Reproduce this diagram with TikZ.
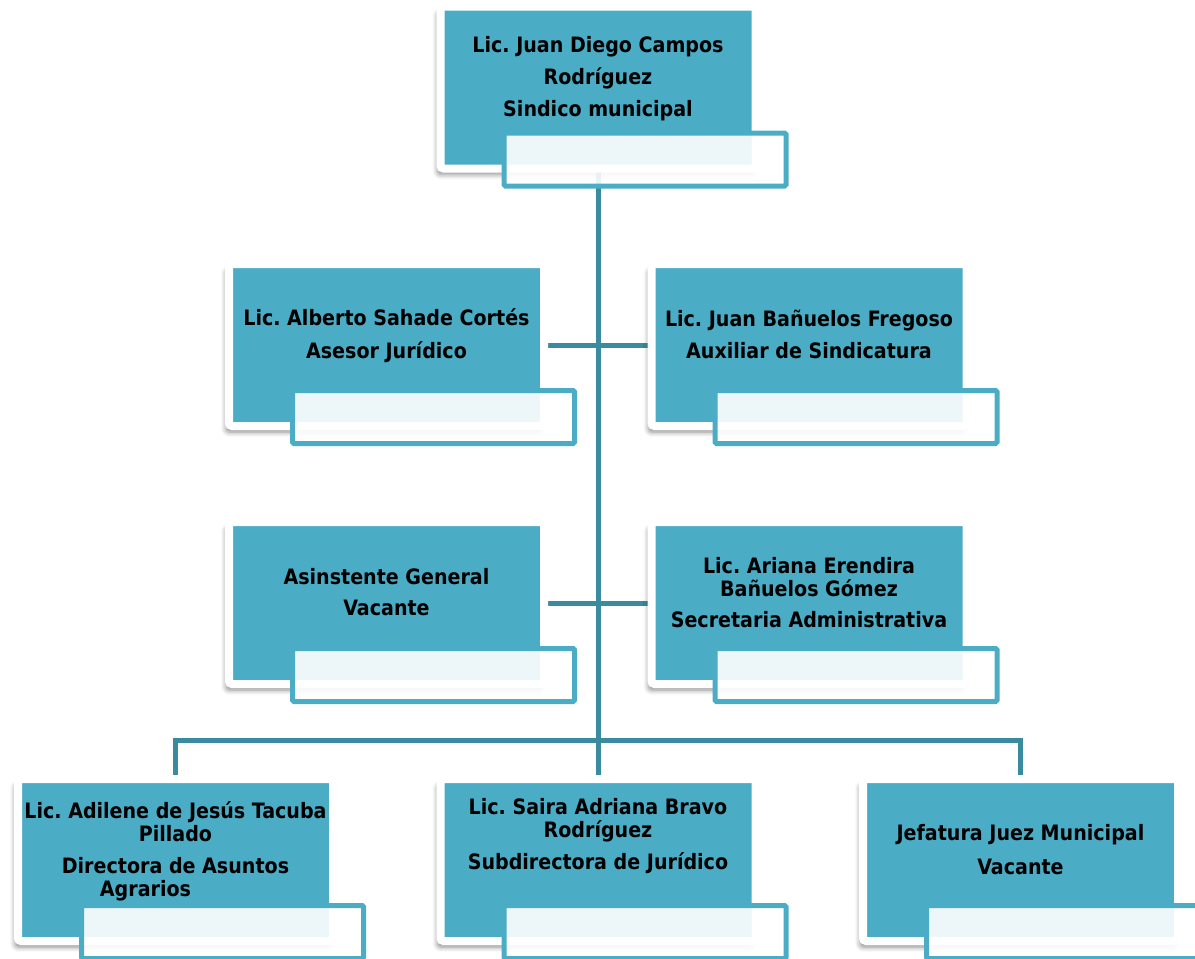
\documentclass[tikz,border=0pt]{standalone}
\usepackage{fontspec}
\setmainfont{DejaVu Sans Condensed}
\usetikzlibrary{positioning,shadows.blur,backgrounds}
\definecolor{cajaazul}{HTML}{4BACC6}
\definecolor{linea}{HTML}{3B8B9E}

\begin{document}
\begin{tikzpicture}[x=1pt, y=-1pt,
    puesto/.style={rectangle, fill=cajaazul, draw=white, line width=8pt, rounded corners=3pt,
                   minimum width=315pt, minimum height=162pt, inner sep=0pt, outer sep=0pt,
                   align=center, text depth=22pt,
                   font=\bfseries\frenchspacing\fontsize{21.2}{23}\selectfont,
                   blur shadow={shadow xshift=-3pt, shadow yshift=-6pt, shadow blur radius=5pt,
                                shadow blur steps=6, shadow opacity=45}},
    pestana/.style={rectangle, draw=cajaazul, line width=5pt, fill=white, fill opacity=.9,
                    rounded corners=1.5pt, minimum width=282pt, minimum height=53pt,
                    inner sep=0pt, outer sep=0pt, anchor=north west},
    conector/.style={draw=linea, line width=5pt}]
  \useasboundingbox (0,0) rectangle (1195,959);

  % puestos
  \node[puesto] (sindico) at (598,87.5) {Lic. Juan Diego Campos\\[9pt]Rodríguez\\[9pt]Sindico municipal};
  \node[puesto] (asesor) at (386.5,345) {Lic. Alberto Sahade Cortés\\[10pt]Asesor Jurídico};
  \node[puesto] (auxiliar) at (809,345) {Lic. Juan Bañuelos Fregoso\\[9pt]Auxiliar de Sindicatura};
  \node[puesto] (asistente) at (386.5,603) {Asinstente General\\[8pt]Vacante};
  \node[puesto] (secretaria) at (809,603) {Lic. Ariana Erendira\\Bañuelos Gómez\\[8pt]Secretaria Administrativa};
  \node[puesto] (directora) at (175.5,860) {Lic. Adilene de Jesús Tacuba\\Pillado\\[9pt]Directora de Asuntos\\Agrarios\hspace*{60pt}};
  \node[puesto, text depth=53pt] (subdirectora) at (598,860) {Lic. Saira Adriana Bravo\\Rodríguez\\[9pt]Subdirectora de Jurídico};
  \node[puesto] (juez) at (1020.5,860) {Jefatura Juez Municipal\\[11pt]Vacante};

  % pestañas
  \node[pestana] (sindico-p) at ([xshift=63.5pt, yshift=35.5pt]sindico.south west) {};
  \node[pestana] (asesor-p) at ([xshift=63.5pt, yshift=35.5pt]asesor.south west) {};
  \node[pestana] (auxiliar-p) at ([xshift=63.5pt, yshift=35.5pt]auxiliar.south west) {};
  \node[pestana] (asistente-p) at ([xshift=63.5pt, yshift=35.5pt]asistente.south west) {};
  \node[pestana] (secretaria-p) at ([xshift=63.5pt, yshift=35.5pt]secretaria.south west) {};
  \node[pestana] (directora-p) at ([xshift=63.5pt, yshift=35.5pt]directora.south west) {};
  \node[pestana] (subdirectora-p) at ([xshift=63.5pt, yshift=35.5pt]subdirectora.south west) {};
  \node[pestana] (juez-p) at ([xshift=63.5pt, yshift=35.5pt]juez.south west) {};

  \coordinate (bus) at (598,740);
  \begin{scope}[on background layer]
    \draw[conector] (sindico) -- (subdirectora);
    \draw[conector] (asesor) -- (auxiliar);
    \draw[conector] (asistente) -- (secretaria);
    \draw[conector] (directora) |- (bus) -| (juez);
  \end{scope}
\end{tikzpicture}
\end{document}
